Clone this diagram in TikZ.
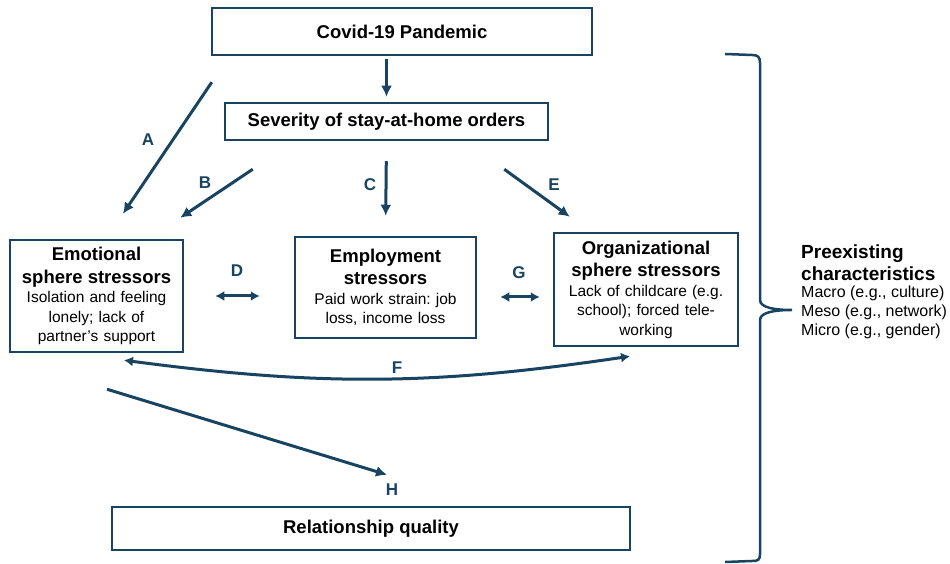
\documentclass[tikz,border=0pt]{standalone}
\usepackage{fontspec}
\setmainfont{Liberation Sans}
\usepackage{tikz}
\usetikzlibrary{positioning}
\usetikzlibrary{calc}
\usetikzlibrary{arrows.meta}
\definecolor{navy}{RGB}{24,68,98}

\frenchspacing
\newcommand{\hd}{\fontsize{18.5}{22.5}\selectfont\bfseries}
\newcommand{\bd}{\fontsize{15.5}{19.5}\selectfont}

\begin{document}
\begin{tikzpicture}[x=1pt,y=1pt,
  topbox/.style={draw=navy, line width=2.5pt, font=\hd, inner sep=2pt},
  stressbox/.style={draw=navy, line width=2.5pt, font=\bd, align=center, inner xsep=4pt, inner ysep=2pt},
  conn/.style={navy, line width=3pt, -{Latex[length=11pt,width=11pt]}},
  dconn/.style={navy, line width=3pt, {Latex[length=9pt,width=10pt]}-{Latex[length=9pt,width=10pt]}},
  lbl/.style={text=navy, font=\fontsize{17}{20}\selectfont\bfseries, inner sep=0pt},
  brace/.style={navy, line width=2.5pt}]

\useasboundingbox (0,0) rectangle (950,564);

%---------------------------------------
% Boxes
%---------------------------------------
\node[topbox, minimum width=380pt, minimum height=47pt] (covid) at (402,532.5) {Covid-19 Pandemic};
\node[topbox, minimum width=323pt, minimum height=37pt] (severity) at (386.5,442.5) {Severity of stay-at-home orders};

\node[stressbox, text width=165pt, minimum height=112pt] (emotional) at (96.5,268)
  {{\hd Emotional\\sphere stressors\par}Isolation and feeling\\lonely; lack of\\partner's support};
\node[stressbox, text width=173pt, minimum height=101pt] (employment) at (385.5,276.5)
  {{\hd Employment\\stressors\par}Paid work strain: job\\loss, income loss};
\node[stressbox, text width=176pt, minimum height=113pt] (organizational) at (646,274.5)
  {{\hd Organizational\\sphere stressors\par}Lack of childcare (e.g.\\school); forced tele-\\working};

\node[topbox, minimum width=518pt, minimum height=43pt] (relationship) at (371,35.5) {Relationship quality};

%---------------------------------------
% Paths
%---------------------------------------
\draw[conn, shorten <=3pt, shorten >=5pt] (severity.north |- covid.south) -- (severity.north);
\draw[conn] ($(covid.south west)+(1,-26)$) -- ($(emotional.north)+(26.5,25)$);
\draw[conn] ($(severity.south west)+(29,-28)$) -- ($(emotional.north east)+(-4,21)$);
\draw[conn, shorten <=20pt, shorten >=20pt] (severity.south) -- (employment.north);
\draw[conn] ($(severity.south east)+(-45,-28)$) -- ($(organizational.north west)+(17,15)$);

\draw[dconn, shorten <=31pt, shorten >=34pt] (emotional.east) -- (emotional.east -| employment.west);
\draw[dconn] ($(employment.east)+(23,-9.5)$) -- ($(organizational.west)+(-13,-7.5)$);
\draw[dconn] ($(emotional.south)+(27.5,-7)$) to[bend right=8] ($(organizational.south)+(-16,-9)$);

\draw[conn] ($(emotional.south)+(10.5,-36)$) -- ($(relationship.north)+(16,31)$);

% path labels
\node[lbl] (lA) at (148,424) {A};
\node[lbl] (lB) at (205,381) {B};
\node[lbl] (lC) at (370,379) {C};
\node[lbl] (lD) at (237,293) {D};
\node[lbl] (lE) at (554,379) {E};
\node[lbl] (lF) at (397,196) {F};
\node[lbl] (lG) at (519,291) {G};
\node[lbl] (lH) at (392,74) {H};

%---------------------------------------
% Preexisting characteristics
%---------------------------------------
\draw[brace] (725,510) -- (752,509) .. controls (758,509) and (760,507) .. (760,501)
  -- (760,264) .. controls (760,256) and (776,254) .. (792,254)
  .. controls (776,254) and (760,252) .. (760,244)
  -- (760,10) .. controls (760,4) and (758,3) .. (752,3) -- (725,2);

\node[font=\fontsize{19}{22}\selectfont\bfseries, align=left, inner sep=0pt, anchor=north west] (pre) at (801,319) {Preexisting\\characteristics};
\node[font=\fontsize{16}{19}\selectfont, align=left, inner sep=0pt, below=4pt of pre.south west, anchor=north west] (prelist)
  {Macro (e.g., culture)\\Meso (e.g., network)\\Micro (e.g., gender)};

\end{tikzpicture}
\end{document}
